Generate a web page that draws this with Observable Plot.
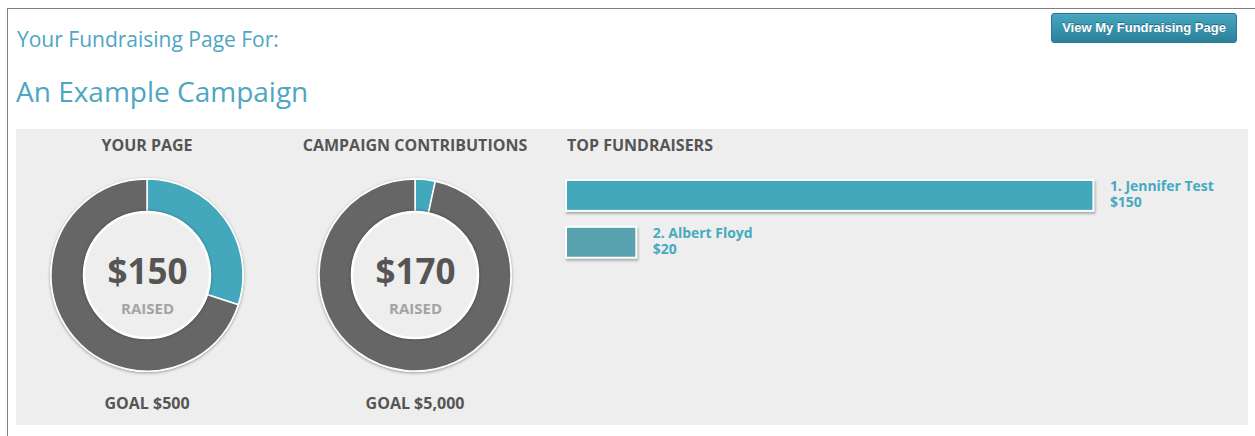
<!DOCTYPE html>
<html>
<head>
<meta charset="utf-8">
<script src="https://cdn.jsdelivr.net/npm/d3@7"></script>
<script src="https://cdn.jsdelivr.net/npm/@observablehq/plot@0.6"></script>
<style>
  html, body { margin: 0; padding: 0; background: #fff; width: 1255px; height: 436px; overflow: hidden; }
  body { position: relative; font-family: "Open Sans", sans-serif; }
  .frame { position: absolute; left: 7px; top: 8px; width: 1300px; height: 500px; border-top: 1px solid #808080; border-left: 1px solid #808080; }
  .h1 { position: absolute; left: 17px; top: 25px; font-size: 21px; line-height: 28px; color: #4ea6c2; white-space: nowrap; }
  .h2 { position: absolute; left: 16px; top: 73px; font-size: 28px; line-height: 36px; color: #4ea6c2; white-space: nowrap; }
  .btn { position: absolute; left: 1051px; top: 13px; width: 184px; height: 28px; border: 1px solid #2a7891; border-radius: 3px;
         background: linear-gradient(#47a6c1, #2b8099); color: #fff; font-family: "Liberation Sans", Arial, sans-serif; font-weight: bold;
         font-size: 13px; line-height: 28px; text-align: center; text-shadow: 0 -1px 0 rgba(0,0,0,0.35); white-space: nowrap; }
  .panel { position: absolute; left: 16px; top: 129px; width: 1232px; height: 296px; background: #eeeeee; }
  .sec { position: absolute; font-weight: 700; font-size: 16px; line-height: 20px; color: #555; white-space: nowrap; text-align: center; }
  .plotbox { position: absolute; }
  .plotbox svg { overflow: visible; }
  .bars g[aria-label="bar"] rect { filter: drop-shadow(1px 2px 1px rgba(0,0,0,0.28)); }
</style>
</head>
<body>
<div class="frame"></div>
<div class="h1">Your Fundraising Page For:</div>
<div class="h2">An Example Campaign</div>
<div class="btn">View My Fundraising Page</div>
<div class="panel">
  <div class="sec" id="t1" style="left:31px; top:6px; width:200px;"></div>
  <div class="sec" id="t2" style="left:249px; top:6px; width:300px;"></div>
  <div class="sec" id="t3" style="left:551px; top:6px; text-align:left;"></div>
  <div class="sec" id="g1" style="left:31px; top:264px; width:200px;"></div>
  <div class="sec" id="g2" style="left:299px; top:264px; width:200px;"></div>
  <div class="plotbox" id="d1" style="left:31px; top:46px;"></div>
  <div class="plotbox" id="d2" style="left:299px; top:46px;"></div>
  <div class="plotbox bars" id="bars" style="left:544px; top:41px;"></div>
</div>
<script>
// ---- data ----
const sectionTitles = ["YOUR PAGE", "CAMPAIGN CONTRIBUTIONS", "TOP FUNDRAISERS"];
const raised = [150, 170];
const goals = [500, 5000];
const fundraiserNames = ["Jennifer Test", "Albert Floyd"];
const fundraiserAmounts = [150, 20];

const fmt = d3.format("$,");
document.getElementById("t1").textContent = sectionTitles[0];
document.getElementById("t2").textContent = sectionTitles[1];
document.getElementById("t3").textContent = sectionTitles[2];
document.getElementById("g1").textContent = "GOAL " + fmt(goals[0]);
document.getElementById("g2").textContent = "GOAL " + fmt(goals[1]);

const TEAL = "#43a8bb", GREY = "#666666";

function donutMark(value, goal) {
  return (index, scales, values, dims) => {
    const cx = dims.width / 2, cy = dims.height / 2;
    const outer = 96, inner = 63;
    const g = d3.create("svg:g").attr("transform", `translate(${cx},${cy})`);
    g.append("circle").attr("r", outer + 1).attr("fill", "#fff")
      .style("filter", "drop-shadow(0px 1px 1.5px rgba(0,0,0,0.35))");
    const pie = d3.pie().sort(null).value(d => d.v)([{v: value, c: TEAL}, {v: goal - value, c: GREY}]);
    const arc = d3.arc().innerRadius(inner).outerRadius(outer);
    g.selectAll("path").data(pie).join("path")
      .attr("d", arc).attr("fill", d => d.data.c).attr("stroke", "#fff").attr("stroke-width", 1.5);
    g.append("circle").attr("r", inner).attr("fill", "#eeeeee").attr("stroke", "#fff").attr("stroke-width", 2.5)
      .style("filter", "drop-shadow(0px 0px 1.5px rgba(0,0,0,0.35))");
    return g.node();
  };
}

function donut(el, i) {
  const chart = Plot.plot({
    width: 200, height: 200, margin: 0,
    style: {background: "transparent", overflow: "visible"},
    x: {axis: null}, y: {axis: null},
    marks: [
      donutMark(raised[i], goals[i]),
      Plot.text([fmt(raised[i])], {frameAnchor: "middle", text: d => d, dy: -3, fontSize: 35, fontWeight: 700,
        fill: "#555", fontFamily: "Open Sans"}),
      Plot.text(["RAISED"], {frameAnchor: "middle", text: d => d, dy: 34, fontSize: 15, fontWeight: 700,
        fill: "#a3a3a3", fontFamily: "Open Sans"})
    ]
  });
  document.getElementById(el).appendChild(chart);
}
donut("d1", 0);
donut("d2", 1);

const fundraisers = fundraiserNames.map((name, i) => ({rank: i + 1, name, amount: fundraiserAmounts[i]}));
const barFills = [TEAL, "#57a2ae"];
const bars = Plot.plot({
  width: 690, height: 100,
  marginLeft: 6, marginRight: 155, marginTop: 10, marginBottom: 11.5,
  style: {background: "transparent", overflow: "visible"},
  x: {domain: [0, d3.max(fundraiserAmounts)], axis: null},
  y: {domain: fundraiserNames, axis: null, paddingInner: 0.33, paddingOuter: 0},
  marks: [
    Plot.barX(fundraisers, {x: "amount", y: "name", fill: (d, i) => barFills[i], stroke: "#fff", strokeWidth: 2}),
    Plot.text(fundraisers, {x: "amount", y: "name", text: d => `${d.rank}. ${d.name}\n${fmt(d.amount)}`,
      dx: 16, dy: -2, textAnchor: "start", lineHeight: 1.12, fontSize: 14, fontWeight: 700, fill: "#45aac0",
      fontFamily: "Open Sans"})
  ]
});
document.getElementById("bars").appendChild(bars);
</script>
</body>
</html>
